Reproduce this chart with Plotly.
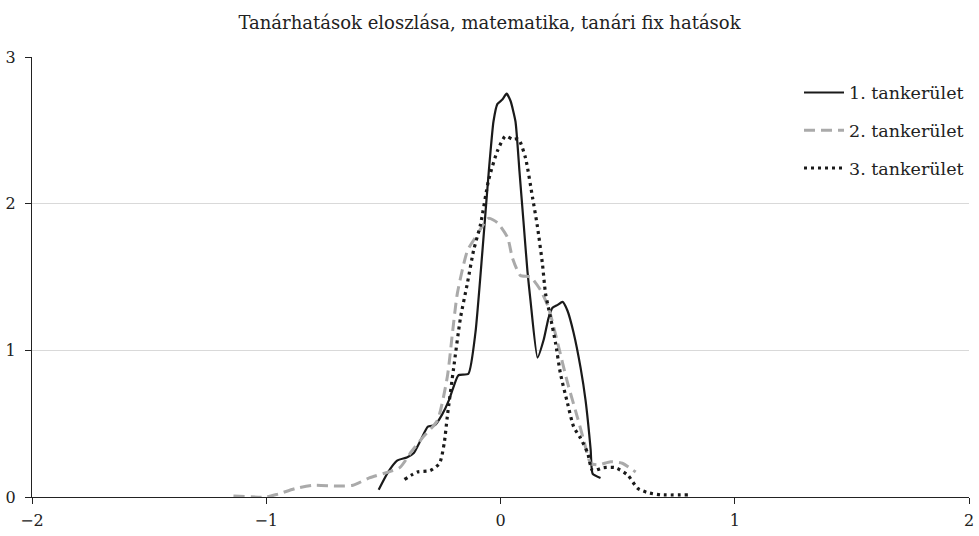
import plotly.graph_objects as go

title_text = "Tanárhatások eloszlása, matematika, tanári fix hatások"
series_names = ["1. tankerület", "2. tankerület", "3. tankerület"]

x1 = [-0.52, -0.48, -0.44, -0.40, -0.37, -0.34, -0.31, -0.28, -0.25, -0.22, -0.205, -0.18, -0.137,
      -0.107, -0.077, -0.05, -0.03, -0.013, 0.008, 0.026, 0.043, 0.064, 0.081, 0.098, 0.115, 0.128,
      0.158, 0.184, 0.205, 0.222, 0.244, 0.265, 0.286, 0.312, 0.342, 0.363, 0.385, 0.393, 0.427]
y1 = [0.05, 0.17, 0.25, 0.27, 0.30, 0.39, 0.48, 0.49, 0.56, 0.66, 0.73, 0.83, 0.84,
      1.12, 1.68, 2.22, 2.56, 2.68, 2.71, 2.75, 2.70, 2.56, 2.22, 1.88, 1.54, 1.34,
      0.95, 1.07, 1.22, 1.29, 1.31, 1.33, 1.27, 1.12, 0.88, 0.66, 0.32, 0.16, 0.13]

x2 = [-1.14, -1.0, -0.95, -0.87, -0.80, -0.70, -0.63, -0.56, -0.48, -0.43, -0.38, -0.33, -0.27,
      -0.227, -0.205, -0.184, -0.141, -0.107, -0.051, -0.013, 0.030, 0.051, 0.085, 0.128, 0.171,
      0.205, 0.244, 0.286, 0.329, 0.355, 0.385, 0.42, 0.47, 0.52, 0.577]
y2 = [0.007, 0.0, 0.02, 0.06, 0.08, 0.075, 0.08, 0.13, 0.17, 0.20, 0.31, 0.41, 0.52,
      0.82, 1.12, 1.39, 1.68, 1.77, 1.90, 1.87, 1.77, 1.63, 1.51, 1.50, 1.41,
      1.29, 1.05, 0.78, 0.54, 0.39, 0.23, 0.22, 0.24, 0.23, 0.17]

x3 = [-0.41, -0.355, -0.30, -0.26, -0.24, -0.227, -0.20, -0.171, -0.141, -0.115, -0.085, -0.051,
      -0.013, 0.021, 0.051, 0.077, 0.107, 0.137, 0.158, 0.179, 0.192, 0.214, 0.235, 0.256, 0.286,
      0.312, 0.342, 0.372, 0.393, 0.44, 0.49, 0.543, 0.585, 0.628, 0.684, 0.80]
y3 = [0.12, 0.17, 0.18, 0.23, 0.37, 0.55, 0.88, 1.22, 1.46, 1.68, 1.86, 2.16,
      2.36, 2.46, 2.44, 2.44, 2.31, 2.04, 1.84, 1.59, 1.39, 1.22, 1.05, 0.84, 0.64,
      0.48, 0.40, 0.30, 0.18, 0.20, 0.20, 0.15, 0.06, 0.03, 0.015, 0.015]

x_ticks = [-2, -1, 0, 1, 2]
y_ticks = [0, 1, 2, 3]

FONT = "DejaVu Serif"
TXT = "#222222"

fig = go.Figure()
fig.add_trace(go.Scatter(x=x1, y=y1, mode="lines", name=series_names[0], legendgroup="a",
                         line=dict(color="#1a1a1a", width=2.2, shape="spline", smoothing=0.5)))
fig.add_trace(go.Scatter(x=x2, y=y2, mode="lines", name=series_names[1], legendgroup="b",
                         line=dict(color="#aaaaaa", width=3, dash="11px,6px", shape="spline", smoothing=0.6)))
fig.add_trace(go.Scatter(x=x3, y=y3, mode="lines", name=series_names[2], legendgroup="c",
                         line=dict(color="#1a1a1a", width=3.2, dash="3px,4px", shape="spline", smoothing=0.6)))

fig.update_layout(
    template="none",
    width=979, height=536,
    margin=dict(l=32, r=10, t=57, b=39, autoexpand=False),
    paper_bgcolor="white", plot_bgcolor="white",
    font=dict(family=FONT, size=16, color=TXT),
    title=dict(text=title_text, x=0.5, xanchor="center", y=0.958, yanchor="middle",
               font=dict(family=FONT, size=18, color=TXT)),
    showlegend=True,
    legend=dict(x=1.0, xanchor="right", y=0.96, yanchor="top", bgcolor="rgba(0,0,0,0)",
                font=dict(family=FONT, size=17.5, color=TXT), tracegroupgap=12,
                itemwidth=40),
    xaxis=dict(range=[-2, 2], tickvals=x_ticks, showgrid=False, zeroline=False, automargin=False,
               showline=True, linecolor=TXT, linewidth=1, ticks="outside",
               ticklen=6, tickcolor=TXT, tickfont=dict(family=FONT, size=16),
               ticklabelstandoff=3),
    yaxis=dict(range=[0, 3], tickvals=y_ticks, showgrid=True, gridcolor="#d9d9d9", gridwidth=1,
               zeroline=False, showline=True, linecolor=TXT, linewidth=1, ticks="outside",
               automargin=False,
               ticklen=6, tickcolor=TXT, tickfont=dict(family=FONT, size=16),
               ticklabelstandoff=6),
)

# remove the default 8px body margin so the figure fills the 979x536 window exactly
fig.write_html("out.html", config={"displayModeBar": False},
               post_script="document.body.style.margin='0';")
